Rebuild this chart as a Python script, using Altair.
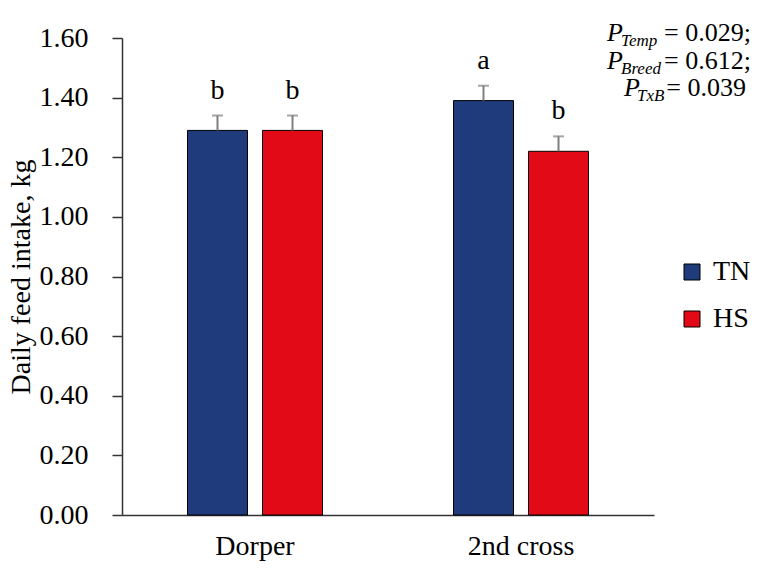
import altair as alt
import pandas as pd

breeds = ["Dorper", "Dorper", "2nd cross", "2nd cross"]
temps = ["TN", "HS", "TN", "HS"]
intake = [1.29, 1.29, 1.39, 1.22]
sem = [0.05, 0.05, 0.05, 0.05]
letters = ["b", "b", "a", "b"]

breed_order = ["Dorper", "2nd cross"]
temp_order = ["TN", "HS"]
temp_colors = ["#1F3B7B", "#E30A17"]

p_names = ["Temp", "Breed", "TxB"]
p_texts = ["= 0.029;", "= 0.612;", "= 0.039"]

df = pd.DataFrame({"breed": breeds, "temp": temps, "intake": intake, "sem": sem, "letter": letters})
df["upper"] = df["intake"] + df["sem"]

FONT = "Liberation Serif, Times New Roman, serif"
FS = 28

x = alt.X("breed:N", sort=breed_order, scale=alt.Scale(paddingInner=0, paddingOuter=0),
          axis=alt.Axis(title=None, labelAngle=0, ticks=False, labelPadding=17, labelFontSize=FS,
                        labelFont=FONT, labelColor="black", domainColor="#333333", domainWidth=1.5))
xo = alt.XOffset("temp:N", sort=temp_order, scale=alt.Scale(paddingInner=0.2, paddingOuter=0.873))

base = alt.Chart(df)

bars = base.mark_bar(stroke="black", strokeWidth=1).encode(
    x=x, xOffset=xo,
    y=alt.Y("intake:Q", scale=alt.Scale(domain=[0, 1.6], nice=False),
            axis=alt.Axis(title="Daily feed intake, kg", values=[0, 0.2, 0.4, 0.6, 0.8, 1.0, 1.2, 1.4, 1.6],
                          format=".2f", grid=False, tickSize=10, tickColor="#333333", tickWidth=1.5,
                          domainColor="#333333", domainWidth=1.5, labelPadding=24, labelFontSize=FS,
                          labelFont=FONT, labelColor="black", titleFont=FONT, titleFontSize=FS,
                          titleFontWeight="normal", titleColor="black", titlePadding=4)),
    color=alt.Color("temp:N", sort=temp_order, scale=alt.Scale(domain=temp_order, range=temp_colors),
                    legend=alt.Legend(title=None, orient="none", legendX=556, legendY=220,
                                      symbolType="square", symbolSize=256, symbolStrokeColor="black",
                                      symbolStrokeWidth=1, labelFont=FONT, labelFontSize=FS,
                                      labelColor="black", rowPadding=19, labelOffset=7)),
)

err = base.mark_rule(color="#7F7F7F", strokeWidth=2).encode(
    x=alt.X("breed:N", sort=breed_order), xOffset=xo, y="intake:Q", y2="upper:Q")
cap = base.mark_tick(color="#7F7F7F", thickness=2, size=11).encode(
    x=alt.X("breed:N", sort=breed_order), xOffset=xo, y="upper:Q")
lab = base.mark_text(dy=-17, baseline="alphabetic", font=FONT, fontSize=FS, color="black").encode(
    x=alt.X("breed:N", sort=breed_order), xOffset=xo, y="upper:Q", text="letter:N")

layers = [bars, err, cap, lab]

# P-value annotation: italic P, italic subscript, and the value
PFS = 26
ann_y = [3, 31, 58]
p_left = [485, 485, 502]
sub_left = [499, 499, 515]
eq_right = [629, 629, 624]
for i in range(3):
    yy = ann_y[i]
    layers.append(alt.Chart(pd.DataFrame({"t": ["P"]})).mark_text(
        align="left", baseline="alphabetic", font=FONT, fontSize=PFS, fontStyle="italic", color="black"
    ).encode(text="t:N", x=alt.value(p_left[i]), y=alt.value(yy)))
    layers.append(alt.Chart(pd.DataFrame({"t": [p_names[i]]})).mark_text(
        align="left", baseline="alphabetic", font=FONT, fontSize=17, fontStyle="italic", color="black"
    ).encode(text="t:N", x=alt.value(sub_left[i]), y=alt.value(yy + 5)))
    layers.append(alt.Chart(pd.DataFrame({"t": [p_texts[i]]})).mark_text(
        align="right", baseline="alphabetic", font=FONT, fontSize=PFS, color="black"
    ).encode(text="t:N", x=alt.value(eq_right[i]), y=alt.value(yy)))

chart = alt.layer(*layers).properties(
    width=532, height=477,
    autosize=alt.AutoSizeParams(type="none"),
    padding={"left": 114, "top": 30, "right": 97, "bottom": 47},
    background="white",
).configure_view(stroke=None)

chart.save("out.html", embed_options={"renderer": "svg", "actions": False})
